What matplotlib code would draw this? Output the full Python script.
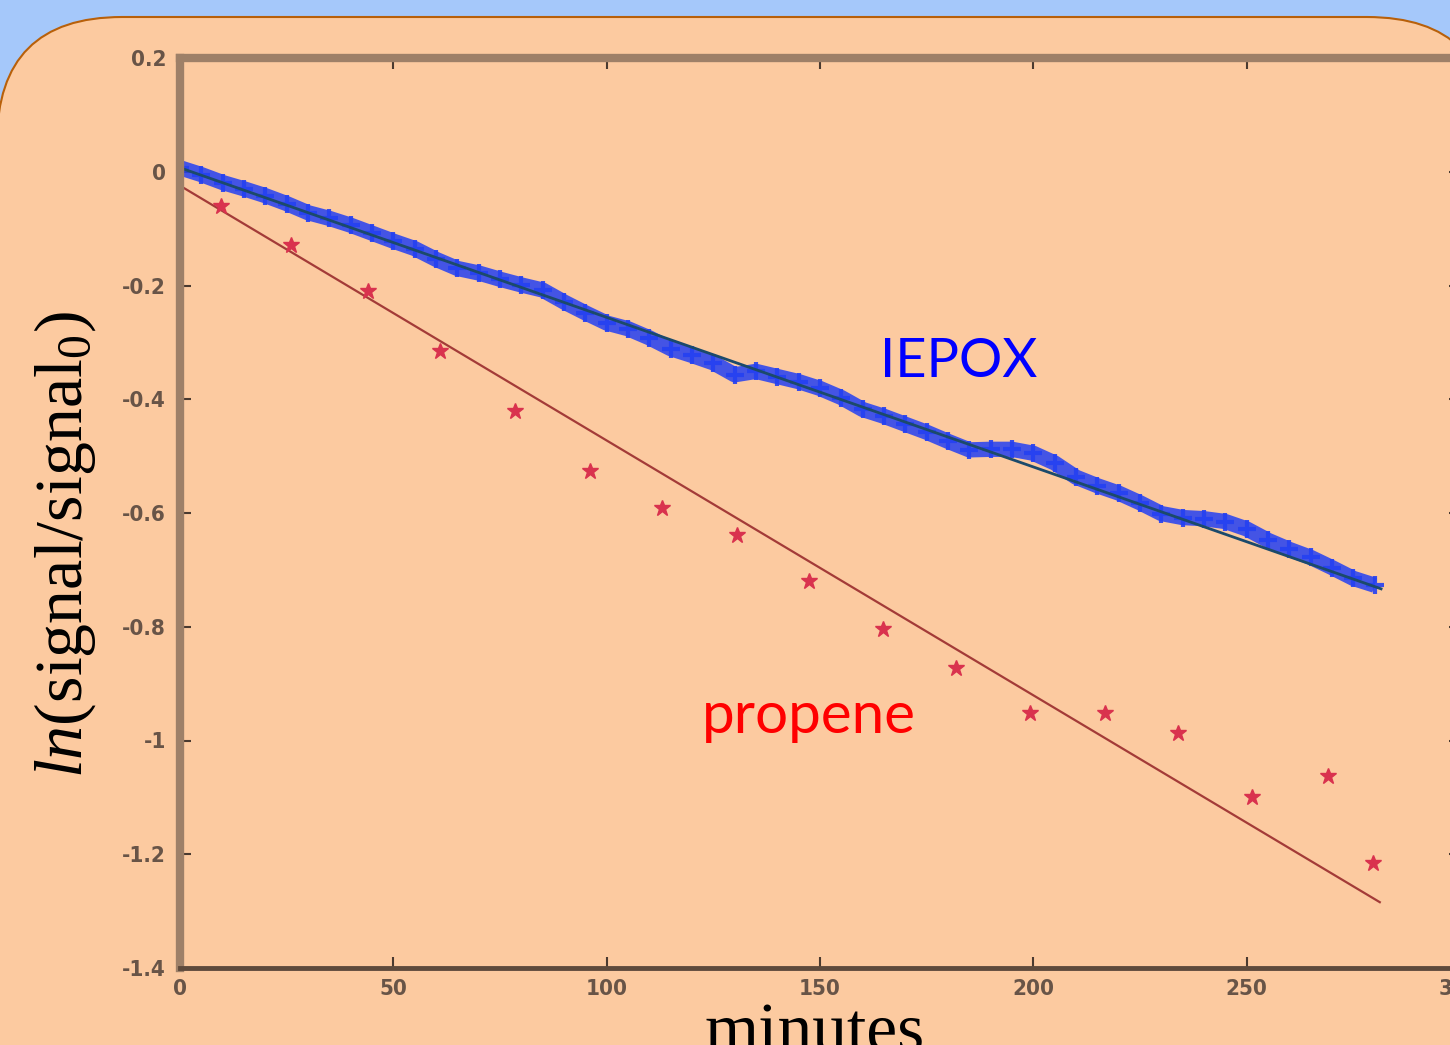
import numpy as np
import matplotlib
matplotlib.use("Agg")
import matplotlib.pyplot as plt
from matplotlib.patches import FancyBboxPatch

# IEPOX signal, every 5 minutes
iepox_t = np.arange(0, 285, 5)
iepox_v = [0.007, -0.005, -0.019, -0.030, -0.042, -0.056, -0.072, -0.082, -0.094, -0.108,
           -0.122, -0.135, -0.154, -0.170, -0.178, -0.189, -0.199, -0.208, -0.229, -0.248,
           -0.266, -0.276, -0.292, -0.311, -0.323, -0.336, -0.357, -0.351, -0.360, -0.369,
           -0.381, -0.397, -0.418, -0.430, -0.444, -0.458, -0.474, -0.489, -0.488, -0.488,
           -0.495, -0.512, -0.537, -0.552, -0.565, -0.582, -0.601, -0.608, -0.610, -0.615,
           -0.628, -0.648, -0.664, -0.678, -0.696, -0.715, -0.727]

# propene points
propene_t = [9.6, 26.1, 44.1, 61.0, 78.6, 96.2, 112.9, 130.5, 147.4, 164.8,
             181.9, 199.3, 216.9, 233.8, 251.2, 269.0, 279.6]
propene_v = [-0.061, -0.128, -0.210, -0.316, -0.421, -0.526, -0.591, -0.638, -0.720, -0.804,
             -0.872, -0.951, -0.951, -0.986, -1.099, -1.063, -1.215]

# linear fits: intercept, slope, end time
iepox_fit = (0.007, -0.00263, 281.5)
propene_fit = (-0.0245, -0.00448, 281.2)

xticks = [0, 50, 100, 150, 200, 250, 300]
xlabels = ["0", "50", "100", "150", "200", "250", "300"]
yticks = [0.2, 0, -0.2, -0.4, -0.6, -0.8, -1, -1.2, -1.4]
ylabels = ["0.2", "0", "-0.2", "-0.4", "-0.6", "-0.8", "-1", "-1.2", "-1.4"]

plt.rcParams['mathtext.fontset'] = 'custom'
plt.rcParams['mathtext.rm'] = 'Liberation Serif'
plt.rcParams['mathtext.it'] = 'Liberation Serif:italic'

W, H = 1450, 1045
fig = plt.figure(figsize=(W / 100, H / 100), dpi=100, facecolor='#A5C8FA')

# slide panel
bg = fig.add_axes([0, 0, 1, 1], zorder=0)
bg.set_xlim(0, W)
bg.set_ylim(H, 0)
bg.axis('off')
panel = FancyBboxPatch((-3, 17), 1495, 1200, boxstyle='round,pad=0,rounding_size=125',
                       facecolor='#FCCAA0', edgecolor='#B8600A', linewidth=1.5)
bg.add_patch(panel)

ax = fig.add_axes([180 / W, 1 - 968 / H, 1280 / W, 910 / H], zorder=1)
ax.set_facecolor('none')

ax.plot(iepox_t, iepox_v, '-', color='#2440f2', lw=11, solid_capstyle='butt', alpha=0.85)
ax.plot(iepox_t, iepox_v, '+', color='#2440f2', ms=13, mew=3, alpha=0.9)

tf = np.array([0, iepox_fit[2]])
ax.plot(tf, iepox_fit[0] + iepox_fit[1] * tf, color='#1b4a6b', lw=2)
tf = np.array([0, propene_fit[2]])
ax.plot(tf, propene_fit[0] + propene_fit[1] * tf, color='#a33b38', lw=1.6)

ax.plot(propene_t, propene_v, '*', color='#d9324e', ms=12, mec='#d9324e')

ax.set_xlim(0, 300)
ax.set_ylim(-1.4, 0.2)
ax.set_xticks(xticks)
ax.set_xticklabels(xlabels)
ax.set_yticks(yticks)
ax.set_yticklabels(ylabels)
ax.tick_params(direction='in', length=8, width=1.5, color='#4a3a30',
               top=True, right=True, labelsize=16, labelcolor='#4e4038')
ax.tick_params(axis='x', pad=8)
ax.tick_params(axis='y', pad=10)
for lab in ax.get_xticklabels() + ax.get_yticklabels():
    lab.set_fontweight('bold')
    lab.set_fontstretch('condensed')
    lab.set_alpha(0.85)

for s in ['top', 'left']:
    ax.spines[s].set_color('#9e8068')
    ax.spines[s].set_linewidth(6)
ax.spines['bottom'].set_color('#5e4a3c')
ax.spines['bottom'].set_linewidth(3.5)
ax.spines['right'].set_color('#5e4a3c')

fig.text(880 / W, 1 - 377 / H, 'IEPOX', color='#0000FF', fontsize=39,
         family='Lato', ha='left', va='baseline')
fig.text(702 / W, 1 - 733 / H, 'propene', color='#FF0000', fontsize=42,
         family='Lato', ha='left', va='baseline')

fig.text(65 / W, 1 - 545 / H, r'$\mathit{ln}\mathrm{(signal/signal_0)}$', fontsize=49,
         rotation=90, ha='center', va='center', color='black')
fig.text(815 / W, 1 - 1051 / H, 'minutes', fontsize=50, family='Liberation Serif',
         ha='center', va='baseline', color='black')

fig.savefig('out.png', dpi=100, facecolor=fig.get_facecolor())
